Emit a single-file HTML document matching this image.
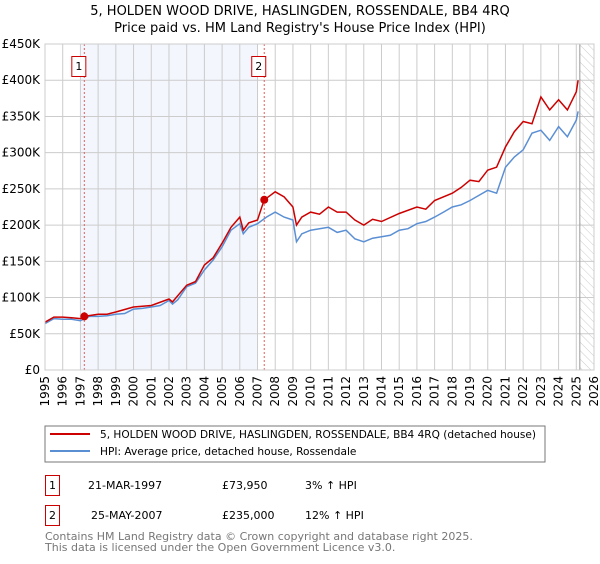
<!DOCTYPE html>
<html><head><meta charset="utf-8"><style>
body{margin:0;background:#fff;font-family:"DejaVu Sans","Liberation Sans",sans-serif;}
svg text{font-family:"DejaVu Sans","Liberation Sans",sans-serif;}
</style></head><body>
<svg width="600" height="560" viewBox="0 0 600 560" xmlns="http://www.w3.org/2000/svg">
<defs><pattern id="hatch" width="6" height="6" patternUnits="userSpaceOnUse" patternTransform="rotate(-45)"><line x1="0" y1="0" x2="0" y2="6" stroke="#ccc" stroke-width="1"/></pattern></defs>
<text x="300" y="15" text-anchor="middle" font-size="13">5, HOLDEN WOOD DRIVE, HASLINGDEN, ROSSENDALE, BB4 4RQ</text>
<text x="300" y="32" text-anchor="middle" font-size="13">Price paid vs. HM Land Registry's House Price Index (HPI)</text>
<g id="plot"></g>
<g>
<rect x="45" y="426" width="500" height="36" fill="#fff" stroke="#777" stroke-width="1"/>
<line x1="50" y1="434" x2="90" y2="434" stroke="#cc0000" stroke-width="2"/>
<text x="100" y="438" font-size="10.6" textLength="436" lengthAdjust="spacingAndGlyphs">5, HOLDEN WOOD DRIVE, HASLINGDEN, ROSSENDALE, BB4 4RQ (detached house)</text>
<line x1="50" y1="451" x2="90" y2="451" stroke="#5b8fd4" stroke-width="2"/>
<text x="100" y="455" font-size="10.6">HPI: Average price, detached house, Rossendale</text>
</g>
<g font-size="11">
<rect x="45.5" y="475.5" width="14" height="20" fill="none" stroke="#cc0000"/>
<text x="52.5" y="489" text-anchor="middle">1</text>
<text x="88" y="489">21-MAR-1997</text><text x="222" y="489">£73,950</text><text x="305" y="489">3% ↑ HPI</text>
<rect x="45.5" y="505.5" width="14" height="20" fill="none" stroke="#cc0000"/>
<text x="52.5" y="519" text-anchor="middle">2</text>
<text x="91" y="519">25-MAY-2007</text><text x="222" y="519">£235,000</text><text x="305" y="519">12% ↑ HPI</text>
</g>
<text x="45" y="540" font-size="11" fill="#777">Contains HM Land Registry data © Crown copyright and database right 2025.</text>
<text x="45" y="551" font-size="11" fill="#777">This data is licensed under the Open Government Licence v3.0.</text>
</svg>
<script>
const hpiYears=[1995,1995.5,1996,1996.5,1997,1997.5,1998,1998.5,1999,1999.5,2000,2000.5,2001,2001.5,2002,2002.2,2002.5,2003,2003.5,2004,2004.5,2005,2005.5,2006,2006.2,2006.5,2007,2007.5,2008,2008.5,2009,2009.2,2009.5,2010,2010.5,2011,2011.5,2012,2012.5,2013,2013.5,2014,2014.5,2015,2015.5,2016,2016.5,2017,2017.5,2018,2018.5,2019,2019.5,2020,2020.5,2021,2021.5,2022,2022.5,2023,2023.5,2024,2024.5,2025,2025.1];
const hpiValues=[64,71,70,70,68,74,74,75,77,78,84,85,87,89,96,91,97,115,120,138,152,170,193,202,188,197,202,211,218,211,207,177,188,193,195,197,190,193,181,177,182,184,186,193,195,202,205,211,218,225,228,234,241,248,244,280,294,304,327,331,317,336,322,345,357];
const ppYears=[1995,1995.5,1996,1996.5,1997,1997.22,1998,1998.5,1999,2000,2000.5,2001,2002,2002.2,2003,2003.5,2004,2004.5,2005,2005.5,2006,2006.2,2006.5,2007,2007.38,2007.5,2008,2008.5,2009,2009.2,2009.5,2010,2010.5,2011,2011.5,2012,2012.5,2013,2013.5,2014,2015,2016,2016.5,2017,2018,2018.5,2019,2019.5,2020,2020.5,2021,2021.5,2022,2022.5,2023,2023.5,2024,2024.5,2025,2025.1];
const ppValues=[66,73,73,72,71,73.95,77,77,80,87,88,89,98,94,117,122,145,155,175,197,211,193,203,207,235,237,246,239,225,200,211,218,215,225,218,218,207,200,208,205,216,225,222,234,244,252,262,260,276,280,308,329,343,340,377,359,373,359,384,400];
const sales=[{n:"1",year:1997.22,value:73.95},{n:"2",year:2007.38,value:235}];
const yTicks=[0,50,100,150,200,250,300,350,400,450];
const yTickLabels=["£0","£50K","£100K","£150K","£200K","£250K","£300K","£350K","£400K","£450K"];
const xTicks=[1995,1996,1997,1998,1999,2000,2001,2002,2003,2004,2005,2006,2007,2008,2009,2010,2011,2012,2013,2014,2015,2016,2017,2018,2019,2020,2021,2022,2023,2024,2025,2026];

const L=45,R=594,T=44,B=370;
const xs=y=>L+(y-1995)/(2026-1995)*(R-L);
const ys=v=>B-v/450*(B-T);
const NS="http://www.w3.org/2000/svg";
const g=document.getElementById('plot');
function mk(tag,attrs,parent){const e=document.createElementNS(NS,tag);for(const k in attrs)e.setAttribute(k,attrs[k]);(parent||g).appendChild(e);return e;}
let e;
e=mk('rect',{x:xs(1997.03),y:T,width:xs(2007.03)-xs(1997.03),height:B-T,fill:'#f3f6fd'});


e=mk('rect',{x:xs(2025.2),y:T,width:R-xs(2025.2),height:B-T,fill:'url(#hatch)'});


xTicks.forEach((t,i)=>{
 e=mk('line',{x1:xs(t),x2:xs(t),y1:T,y2:B,stroke:'#ccc','stroke-width':1});
 
 
 e=mk('text',{x:0,y:0,'font-size':12,'text-anchor':'end',transform:`translate(${xs(t)+4},${B+6}) rotate(-90)`});
 e.textContent=String(t);
 
 
});
yTicks.forEach((t,i)=>{
 e=mk('line',{x1:L,x2:R,y1:ys(t),y2:ys(t),stroke:'#ccc','stroke-width':1});
 
 
 e=mk('text',{x:L-5,y:ys(t)+4,'font-size':12,'text-anchor':'end'});
 e.textContent=yTickLabels[i];
 
 
});
e=mk('line',{x1:xs(2025.2),x2:xs(2025.2),y1:T,y2:B,stroke:'#999','stroke-width':1});


sales.forEach(s=>{
 e=mk('line',{x1:xs(s.year),x2:xs(s.year),y1:T,y2:B,stroke:'#e06060','stroke-width':1,'stroke-dasharray':'2,2'});
 
 
 e=mk('rect',{x:xs(s.year)-12.5,y:56.5,width:14,height:20,fill:'#fff',stroke:'#cc0000'});
 
 
 e=mk('text',{x:xs(s.year)-5.5,y:70,'font-size':11,'text-anchor':'middle'});
 e.textContent=s.n;
 
 
});
const path=(xa,va)=>xa.map((x,i)=>(i?'L':'M')+xs(x).toFixed(1)+','+ys(va[i]).toFixed(1)).join('');
e=mk('path',{d:path(hpiYears,hpiValues),fill:'none',stroke:'#5b8fd4','stroke-width':1.5});


e=mk('path',{d:path(ppYears,ppValues),fill:'none',stroke:'#cc0000','stroke-width':1.5});


sales.forEach(s=>{
 e=mk('circle',{cx:xs(s.year),cy:ys(s.value),r:4,fill:'#cc0000'});
 
 
});
e=mk('rect',{x:L,y:T,width:R-L,height:B-T,fill:'none',stroke:'#ccc'});


</script>
</body></html>
